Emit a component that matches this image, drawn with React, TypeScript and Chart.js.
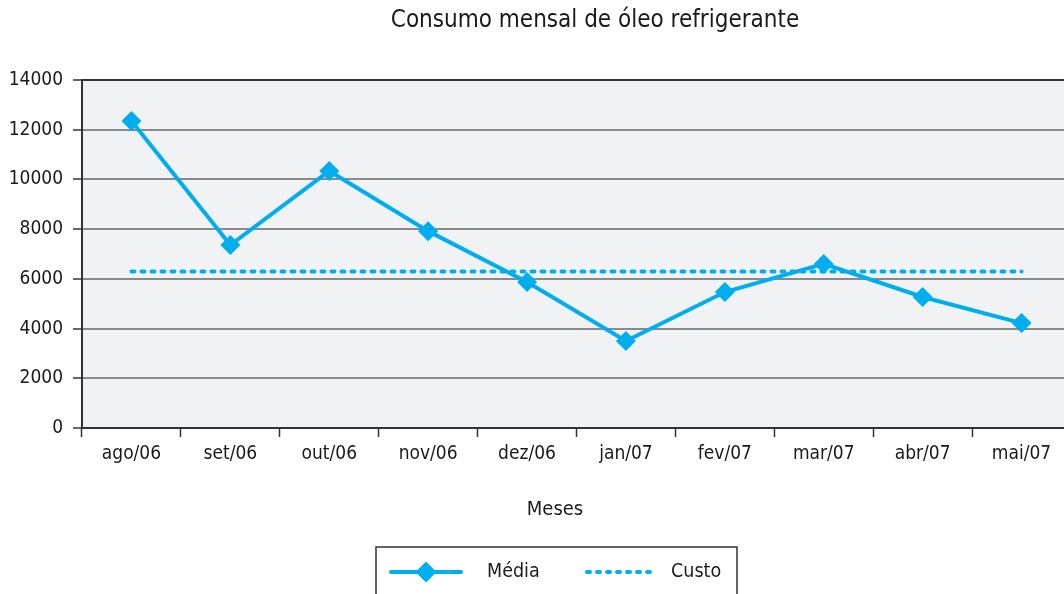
import React, { useEffect, useRef } from "react";
import { Chart, registerables } from "chart.js";

Chart.register(...registerables);

const TITLE = "Consumo mensal de óleo refrigerante";
const X_TITLE = "Meses";
const months = ["ago/06", "set/06", "out/06", "nov/06", "dez/06", "jan/07", "fev/07", "mar/07", "abr/07", "mai/07"];
const media = [12350, 7360, 10340, 7920, 5870, 3500, 5470, 6600, 5270, 4220];
const custo = [6300, 6300, 6300, 6300, 6300, 6300, 6300, 6300, 6300, 6300];
const seriesNames = ["Média", "Custo"];
const yMin = 0;
const yMax = 14000;
const yStep = 2000;

const FONT = "'Liberation Sans Narrow', 'DejaVu Sans Condensed', 'Arial Narrow', sans-serif";
const BLUE = "#00aeef";
const DARK = "#333333";
const TEXT = "#1a1a1a";
const GRID = "#8a8a8a";
const PLOT_BG = "#f1f2f4";
const CANVAS_W = 1190;
const CANVAS_H = 594;
const PLOT_LEFT = 82;
const PLOT_RIGHT = 1071;
const PLOT_TOP = 80;
const PLOT_BOTTOM = 428;

const decorPlugin = {
  id: "decor",
  beforeDraw(chart: any) {
    const { ctx, chartArea } = chart;
    ctx.save();
    ctx.fillStyle = PLOT_BG;
    ctx.fillRect(chartArea.left, chartArea.top, chartArea.right - chartArea.left, chartArea.bottom - chartArea.top);
    ctx.restore();
  },
  afterDraw(chart: any) {
    const { ctx } = chart;
    ctx.save();
    ctx.fillStyle = TEXT;
    ctx.textAlign = "center";
    ctx.textBaseline = "middle";
    ctx.font = `24px ${FONT}`;
    ctx.fillText(TITLE, 595, 21);

    ctx.font = `20px ${FONT}`;
    ctx.fillText(X_TITLE, 555, 510);

    const bx = 376, by = 547, bw = 361, bh = 60;
    ctx.strokeStyle = DARK;
    ctx.lineWidth = 1.5;
    ctx.strokeRect(bx, by, bw, bh);
    const ly = 572;
    ctx.strokeStyle = BLUE;
    ctx.lineWidth = 4;
    ctx.lineCap = "round";
    ctx.beginPath();
    ctx.moveTo(391, ly);
    ctx.lineTo(461, ly);
    ctx.stroke();
    ctx.fillStyle = BLUE;
    ctx.beginPath();
    const r = 10.5;
    ctx.moveTo(426, ly - r);
    ctx.lineTo(426 + r, ly);
    ctx.lineTo(426, ly + r);
    ctx.lineTo(426 - r, ly);
    ctx.closePath();
    ctx.fill();
    ctx.setLineDash([3, 7]);
    ctx.beginPath();
    ctx.moveTo(587, ly);
    ctx.lineTo(656, ly);
    ctx.stroke();
    ctx.setLineDash([]);
    ctx.fillStyle = TEXT;
    ctx.textAlign = "left";
    ctx.font = `19.5px ${FONT}`;
    ctx.fillText(seriesNames[0], 487, ly);
    ctx.fillText(seriesNames[1], 671, ly);
    ctx.restore();
  },
};

export default function App() {
  const ref = useRef<HTMLCanvasElement | null>(null);
  useEffect(() => {
    if (!ref.current) return;
    const chart = new Chart(ref.current, {
      type: "line",
      data: {
        labels: months,
        datasets: [
          {
            label: seriesNames[0],
            data: media,
            borderColor: BLUE,
            backgroundColor: BLUE,
            borderWidth: 4,
            pointStyle: "rectRot",
            pointRadius: 10,
            pointHoverRadius: 10,
            pointBorderWidth: 0,
            pointBackgroundColor: BLUE,
            tension: 0,
          },
          {
            label: seriesNames[1],
            data: custo,
            borderColor: BLUE,
            backgroundColor: BLUE,
            borderWidth: 4,
            borderDash: [3, 7],
            borderCapStyle: "round",
            pointRadius: 0,
            tension: 0,
          },
        ],
      },
      options: {
        responsive: false,
        animation: false,
        devicePixelRatio: 1,
        layout: { padding: { top: PLOT_TOP, left: 0, right: CANVAS_W - PLOT_RIGHT, bottom: 0 } },
        plugins: {
          legend: { display: false },
          tooltip: { enabled: false },
          title: { display: false },
        },
        scales: {
          x: {
            type: "category",
            offset: true,
            afterFit: (s: any) => { s.height = CANVAS_H - PLOT_BOTTOM; },
            grid: {
              offset: true,
              drawOnChartArea: false,
              drawTicks: true,
              tickLength: 9,
              tickColor: DARK,
              tickWidth: 1.5,
            },
            border: { display: true, color: DARK, width: 2 },
            ticks: {
              color: TEXT,
              padding: 6,
              maxRotation: 0,
              autoSkip: false,
              font: { family: FONT, size: 19 },
            },
          },
          y: {
            min: yMin,
            max: yMax,
            afterFit: (s: any) => { s.width = PLOT_LEFT; },
            grid: {
              color: (c: any) => (c.tick && c.tick.value === yMax ? DARK : GRID),
              lineWidth: 2,
              drawTicks: true,
              tickLength: 9,
              tickColor: DARK,
              tickWidth: 1.5,
            },
            border: { display: true, color: DARK, width: 2 },
            ticks: {
              stepSize: yStep,
              color: TEXT,
              padding: 10,
              font: { family: FONT, size: 19 },
              callback: (v: any) => String(v),
            },
          },
        },
      },
      plugins: [decorPlugin],
    });
    return () => chart.destroy();
  }, []);
  return (
    <canvas
      ref={ref}
      width={CANVAS_W}
      height={CANVAS_H}
      style={{ position: "absolute", left: 0, top: 0, width: CANVAS_W, height: CANVAS_H }}
    />
  );
}
